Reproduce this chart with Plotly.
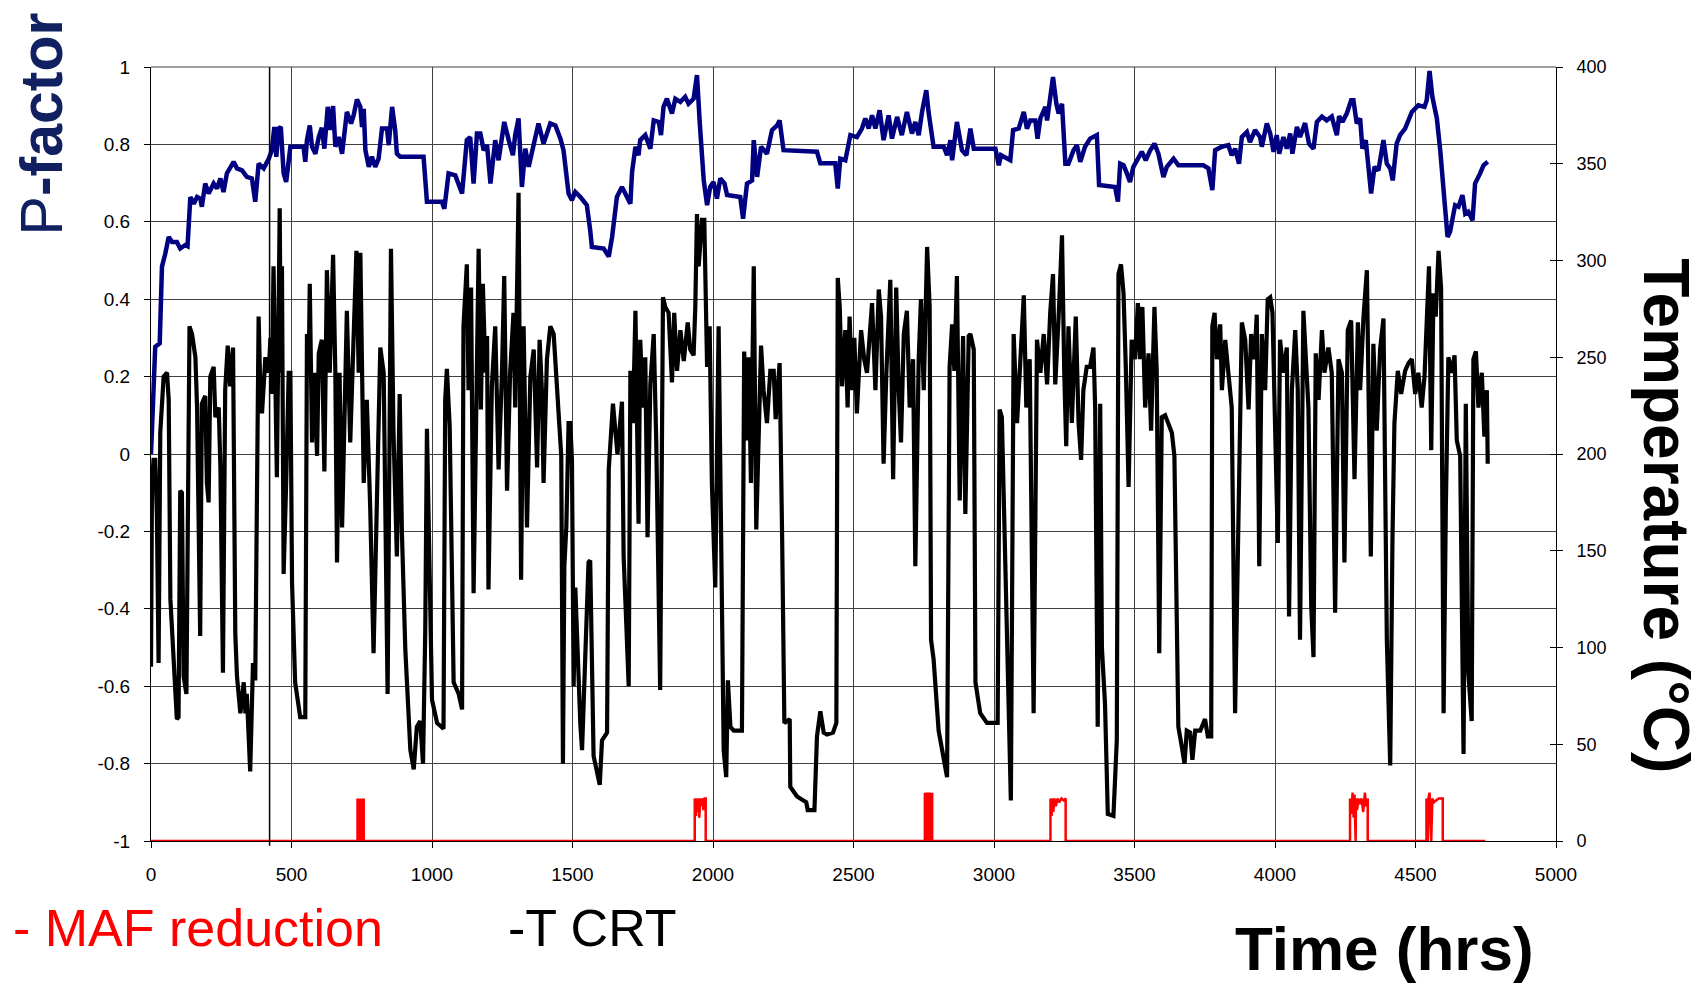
import plotly.graph_objects as go

# ---------------- data ----------------
x_ticks = [0, 500, 1000, 1500, 2000, 2500, 3000, 3500, 4000, 4500, 5000]
x_ticktext = ["0", "500", "1000", "1500", "2000", "2500", "3000", "3500", "4000", "4500", "5000"]
p_ticks = [-1, -0.8, -0.6, -0.4, -0.2, 0, 0.2, 0.4, 0.6, 0.8, 1]
p_ticktext = ["-1", "-0.8", "-0.6", "-0.4", "-0.2", "0", "0.2", "0.4", "0.6", "0.8", "1"]
t_ticks = [0, 50, 100, 150, 200, 250, 300, 350, 400]
t_ticktext = ["0", "50", "100", "150", "200", "250", "300", "350", "400"]

marker_hours = 422

pf_time = [0, 15, 31, 39, 51, 63, 75, 92, 104, 122, 130, 140, 152, 164, 175, 181, 193, 205, 223, 235,
           247, 258, 270, 294, 306, 324, 341, 359, 371, 383, 401, 419, 430, 439, 446, 454, 462, 472, 481, 496,
           543, 549, 555, 565, 573, 585, 597, 608, 617, 629, 638, 648, 656, 668, 680, 697, 712, 721, 733, 745,
           751, 757, 763, 775, 786, 798, 810, 822, 840, 846, 858, 869, 875, 887, 970, 982, 1035, 1044, 1059, 1083,
           1107, 1115, 1124, 1136, 1148, 1160, 1172, 1184, 1196, 1208, 1225, 1237, 1257, 1273, 1288, 1296, 1308, 1320, 1332, 1344,
           1362, 1379, 1397, 1421, 1439, 1457, 1468, 1486, 1498, 1510, 1528, 1551, 1563, 1569, 1611, 1629, 1641, 1658, 1676, 1688,
           1706, 1712, 1724, 1735, 1741, 1759, 1777, 1789, 1807, 1815, 1824, 1836, 1854, 1866, 1884, 1901, 1913, 1931, 1943, 1953,
           1967, 1979, 1990, 2002, 2014, 2026, 2041, 2050, 2097, 2107, 2121, 2139, 2145, 2157, 2171, 2192, 2210, 2228, 2237, 2251,
           2370, 2382, 2435, 2444, 2453, 2471, 2489, 2512, 2530, 2542, 2554, 2566, 2578, 2593, 2607, 2625, 2637, 2655, 2672, 2690,
           2708, 2720, 2732, 2744, 2759, 2767, 2785, 2821, 2833, 2845, 2851, 2868, 2886, 2902, 2916, 2928, 3005, 3017, 3025, 3058,
           3068, 3088, 3106, 3117, 3129, 3147, 3155, 3165, 3183, 3189, 3200, 3210, 3222, 3230, 3242, 3254, 3265, 3283, 3295, 3307,
           3324, 3342, 3366, 3374, 3431, 3441, 3449, 3461, 3473, 3484, 3496, 3514, 3526, 3540, 3556, 3571, 3585, 3603, 3615, 3639,
           3656, 3745, 3763, 3777, 3787, 3811, 3834, 3846, 3858, 3872, 3882, 3900, 3911, 3929, 3947, 3953, 3971, 3983, 3995, 4006,
           4015, 4030, 4042, 4054, 4062, 4078, 4089, 4107, 4121, 4137, 4149, 4167, 4184, 4202, 4214, 4220, 4228, 4240, 4256, 4271,
           4279, 4291, 4303, 4311, 4323, 4333, 4342, 4354, 4368, 4386, 4398, 4410, 4419, 4433, 4445, 4463, 4487, 4510, 4532, 4540,
           4550, 4560, 4576, 4588, 4599, 4605, 4614, 4623, 4641, 4653, 4667, 4677, 4688, 4703, 4712, 4730, 4742, 4757]
p_factor = [0.000, 0.277, 0.286, 0.484, 0.518, 0.561, 0.548, 0.548, 0.531, 0.540, 0.537, 0.664, 0.647, 0.664, 0.660, 0.639, 0.699, 0.673, 0.699, 0.686,
            0.712, 0.677, 0.725, 0.755, 0.738, 0.733, 0.716, 0.712, 0.652, 0.750, 0.738, 0.763, 0.785, 0.845, 0.768, 0.841, 0.845, 0.725, 0.703, 0.794,
            0.794, 0.755, 0.811, 0.849, 0.794, 0.776, 0.819, 0.843, 0.789, 0.897, 0.837, 0.899, 0.794, 0.819, 0.776, 0.884, 0.854, 0.875, 0.916, 0.897,
            0.845, 0.892, 0.785, 0.742, 0.768, 0.742, 0.763, 0.841, 0.841, 0.798, 0.897, 0.837, 0.776, 0.768, 0.768, 0.652, 0.652, 0.634, 0.725, 0.720,
            0.673, 0.746, 0.811, 0.819, 0.699, 0.828, 0.828, 0.785, 0.798, 0.699, 0.811, 0.759, 0.858, 0.811, 0.772, 0.824, 0.867, 0.690, 0.789, 0.742,
            0.802, 0.854, 0.802, 0.854, 0.849, 0.815, 0.785, 0.673, 0.656, 0.677, 0.664, 0.643, 0.578, 0.535, 0.531, 0.510, 0.561, 0.664, 0.690, 0.673,
            0.647, 0.729, 0.794, 0.772, 0.811, 0.824, 0.789, 0.862, 0.858, 0.824, 0.897, 0.918, 0.880, 0.918, 0.910, 0.923, 0.905, 0.918, 0.979, 0.854,
            0.707, 0.643, 0.690, 0.703, 0.660, 0.712, 0.699, 0.669, 0.664, 0.608, 0.699, 0.707, 0.811, 0.716, 0.794, 0.776, 0.837, 0.849, 0.862, 0.785,
            0.781, 0.751, 0.751, 0.686, 0.763, 0.759, 0.824, 0.819, 0.841, 0.867, 0.841, 0.875, 0.841, 0.888, 0.811, 0.875, 0.815, 0.871, 0.824, 0.884,
            0.828, 0.858, 0.824, 0.884, 0.940, 0.884, 0.794, 0.794, 0.772, 0.811, 0.759, 0.858, 0.785, 0.772, 0.841, 0.789, 0.789, 0.746, 0.772, 0.759,
            0.837, 0.841, 0.884, 0.841, 0.862, 0.862, 0.815, 0.867, 0.897, 0.862, 0.918, 0.974, 0.905, 0.880, 0.905, 0.750, 0.750, 0.785, 0.798, 0.755,
            0.794, 0.815, 0.824, 0.695, 0.690, 0.652, 0.750, 0.746, 0.725, 0.703, 0.742, 0.763, 0.781, 0.759, 0.785, 0.802, 0.776, 0.716, 0.742, 0.763,
            0.746, 0.746, 0.738, 0.682, 0.785, 0.794, 0.798, 0.772, 0.789, 0.750, 0.819, 0.832, 0.806, 0.837, 0.819, 0.794, 0.854, 0.828, 0.781, 0.824,
            0.776, 0.819, 0.789, 0.828, 0.776, 0.845, 0.819, 0.855, 0.802, 0.789, 0.858, 0.872, 0.862, 0.872, 0.845, 0.824, 0.873, 0.858, 0.881, 0.914,
            0.914, 0.854, 0.867, 0.789, 0.811, 0.733, 0.673, 0.742, 0.733, 0.811, 0.750, 0.738, 0.707, 0.802, 0.824, 0.841, 0.884, 0.901, 0.897, 0.914,
            0.990, 0.923, 0.867, 0.785, 0.673, 0.613, 0.561, 0.574, 0.643, 0.639, 0.669, 0.621, 0.626, 0.604, 0.699, 0.725, 0.746, 0.755]

crt_time = [0, 3.5, 9, 15, 21, 27, 33, 45, 57, 63, 69, 92, 98, 104, 110, 116, 126, 130, 137, 146,
            158, 164, 175, 181, 193, 199, 205, 211, 223, 229, 241, 247, 256, 264, 273, 282, 292, 300, 306, 318,
            330, 336, 341, 353, 363, 371, 377, 383, 389, 395, 407, 419, 425, 430, 436, 442, 448, 458, 462, 466,
            472, 481, 490, 496, 502, 513, 531, 549, 555, 561, 565, 573, 581, 591, 597, 608, 617, 626, 636, 648,
            656, 662, 671, 680, 691, 697, 709, 721, 731, 739, 745, 757, 768, 780, 792, 804, 816, 828, 842, 854,
            863, 875, 885, 893, 905, 923, 935, 946, 958, 968, 976, 982, 988, 1000, 1018, 1041, 1047, 1053, 1063, 1077,
            1095, 1107, 1112, 1124, 1130, 1139, 1148, 1158, 1166, 1174, 1181, 1190, 1196, 1201, 1213, 1225, 1237, 1249, 1257, 1267,
            1278, 1290, 1296, 1308, 1317, 1326, 1338, 1350, 1362, 1374, 1383, 1391, 1397, 1409, 1421, 1433, 1442, 1451, 1460, 1466,
            1471, 1478, 1486, 1492, 1498, 1504, 1510, 1528, 1534, 1557, 1563, 1575, 1597, 1605, 1623, 1629, 1644, 1660, 1676, 1682,
            1694, 1700, 1706, 1715, 1724, 1735, 1741, 1751, 1759, 1767, 1777, 1789, 1798, 1812, 1822, 1830, 1842, 1854, 1862, 1872,
            1884, 1896, 1910, 1919, 1931, 1937, 1943, 1949, 1961, 1969, 1979, 1988, 1996, 2008, 2020, 2032, 2038, 2047, 2053, 2062,
            2074, 2103, 2111, 2121, 2127, 2135, 2145, 2154, 2162, 2171, 2180, 2192, 2204, 2216, 2223, 2237, 2246, 2254, 2273, 2275,
            2299, 2332, 2337, 2361, 2370, 2382, 2394, 2406, 2427, 2439, 2444, 2451, 2459, 2471, 2479, 2486, 2495, 2503, 2512, 2527,
            2538, 2548, 2558, 2566, 2578, 2590, 2598, 2607, 2617, 2631, 2641, 2652, 2661, 2669, 2679, 2690, 2700, 2712, 2720, 2732,
            2740, 2750, 2762, 2771, 2776, 2785, 2803, 2821, 2833, 2842, 2851, 2859, 2868, 2878, 2890, 2898, 2910, 2916, 2928, 2934,
            2951, 2975, 3013, 3020, 3028, 3060, 3070, 3082, 3094, 3106, 3115, 3127, 3141, 3153, 3165, 3177, 3189, 3200, 3210, 3218,
            3230, 3242, 3250, 3257, 3265, 3277, 3291, 3301, 3310, 3318, 3330, 3342, 3354, 3360, 3369, 3378, 3384, 3395, 3405, 3425,
            3437, 3443, 3452, 3461, 3469, 3479, 3490, 3502, 3512, 3520, 3528, 3538, 3550, 3559, 3571, 3579, 3588, 3597, 3609, 3621,
            3633, 3642, 3651, 3656, 3668, 3678, 3686, 3698, 3706, 3716, 3734, 3751, 3761, 3773, 3777, 3785, 3793, 3805, 3811, 3823,
            3834, 3846, 3858, 3876, 3882, 3894, 3906, 3915, 3927, 3935, 3944, 3953, 3965, 3974, 3983, 3991, 4000, 4010, 4018, 4030,
            4042, 4050, 4060, 4072, 4081, 4089, 4101, 4110, 4119, 4129, 4137, 4145, 4155, 4167, 4176, 4190, 4202, 4214, 4226, 4238,
            4247, 4259, 4271, 4283, 4295, 4303, 4315, 4327, 4333, 4341, 4350, 4362, 4374, 4386, 4398, 4410, 4418, 4425, 4437, 4449,
            4463, 4475, 4487, 4499, 4510, 4522, 4532, 4540, 4548, 4556, 4564, 4572, 4582, 4591, 4600, 4608, 4617, 4629, 4639, 4647,
            4659, 4671, 4679, 4688, 4700, 4706, 4715, 4724, 4736, 4745, 4754, 4757]
t_crt = [90, 185, 197, 197, 168, 92, 211, 240, 242, 228, 125, 63, 64, 181, 180, 85, 76, 176, 266, 262,
         250, 224, 106, 226, 230, 185, 175, 240, 245, 219, 224, 193, 87, 233, 256, 235, 255, 107, 85, 66,
         82, 66, 76, 36, 92, 83, 192, 271, 233, 221, 250, 242, 260, 231, 297, 242, 188, 327, 242, 297,
         138, 185, 242, 242, 133, 82, 64, 64, 262, 242, 288, 206, 242, 199, 252, 259, 191, 295, 242, 303,
         242, 144, 242, 162, 236, 274, 206, 264, 305, 242, 304, 185, 228, 173, 97, 176, 255, 242, 76, 306,
         211, 147, 231, 159, 99, 47, 37, 59, 62, 40, 109, 213, 159, 73, 61, 58, 228, 244, 214, 82,
         76, 68, 266, 298, 233, 286, 128, 231, 306, 223, 288, 242, 261, 130, 235, 266, 192, 242, 292, 181,
         242, 273, 224, 335, 135, 266, 162, 240, 254, 193, 259, 233, 185, 249, 266, 262, 242, 224, 199, 40,
         142, 162, 216, 216, 197, 80, 131, 60, 47, 144, 145, 44, 29, 52, 56, 192, 226, 200, 227, 147,
         99, 80, 243, 216, 274, 164, 259, 224, 250, 157, 236, 262, 207, 78, 281, 276, 273, 237, 273, 243,
         264, 248, 268, 254, 251, 276, 324, 297, 321, 321, 245, 266, 185, 131, 266, 118, 47, 33, 83, 59,
         57, 57, 253, 207, 250, 185, 297, 161, 216, 256, 233, 216, 243, 243, 218, 247, 157, 61, 63, 28,
         23, 20, 16, 16, 54, 67, 56, 55, 56, 61, 291, 276, 235, 264, 224, 271, 233, 260, 221, 264,
         249, 242, 262, 278, 233, 285, 271, 195, 242, 290, 187, 286, 233, 206, 262, 274, 224, 249, 142, 249,
         280, 233, 307, 276, 104, 94, 57, 42, 33, 245, 267, 243, 292, 176, 261, 169, 261, 262, 254, 82,
         66, 61, 61, 223, 219, 21, 262, 216, 250, 282, 224, 249, 66, 259, 242, 262, 236, 273, 293, 236,
         271, 313, 242, 204, 266, 216, 271, 216, 197, 233, 245, 245, 255, 224, 59, 226, 100, 71, 14, 13,
         52, 293, 298, 283, 245, 183, 259, 249, 278, 249, 276, 224, 252, 212, 276, 243, 97, 219, 220, 216,
         211, 199, 95, 59, 49, 40, 57, 56, 42, 57, 57, 63, 54, 54, 266, 273, 249, 267, 233, 259,
         242, 224, 66, 233, 268, 259, 223, 262, 249, 272, 142, 262, 233, 280, 281, 273, 224, 154, 259, 242,
         255, 116, 233, 264, 233, 104, 274, 249, 224, 121, 95, 252, 228, 264, 242, 255, 242, 118, 249, 242,
         144, 264, 269, 187, 268, 233, 271, 295, 242, 147, 257, 212, 254, 270, 104, 39, 156, 216, 243, 231,
         243, 247, 249, 231, 242, 224, 240, 266, 297, 202, 283, 271, 305, 286, 66, 173, 250, 242, 251, 207,
         199, 45, 226, 87, 62, 249, 253, 224, 242, 209, 233, 195]

maf_time = [0, 735, 735, 738, 741, 744, 747, 750, 753, 756, 757, 757,
            1935, 1935, 1939, 1941, 1944, 1948, 1951, 1955, 1958, 1962, 1966, 1970, 1974, 1974,
            2754, 2754, 2757, 2760, 2763, 2766, 2769, 2772, 2775, 2778, 2780, 2780,
            3201, 3201, 3205, 3208, 3211, 3215, 3220, 3226, 3232, 3240, 3248, 3255, 3255,
            4267, 4267, 4272, 4276, 4280, 4283, 4287, 4288, 4292, 4297, 4302, 4308, 4314, 4320, 4324, 4330, 4330,
            4539, 4539, 4544, 4546, 4550, 4556, 4560, 4565, 4572, 4582, 4592, 4597, 4597, 4748]
maf_red = [0, 0, 22, 0, 22, 0, 22, 0, 22, 0, 22, 0,
           0, 22, 13, 22, 15, 22, 12, 22, 18, 22, 16, 22, 22, 0,
           0, 25, 0, 25, 0, 25, 0, 25, 0, 25, 25, 0,
           0, 22, 13, 22, 15, 22, 18, 22, 20, 22, 21, 22, 0,
           0, 22, 14, 25, 12, 24, 0, 22, 16, 22, 19, 22, 15, 25, 18, 22, 0,
           0, 22, 0, 22, 25, 0, 22, 20, 21, 22, 22, 22, 0, 0]

# ---------------- figure ----------------
FONT = "Arial, 'Liberation Sans', sans-serif"

fig = go.Figure()

fig.add_trace(go.Scatter(x=crt_time, y=t_crt, mode="lines", yaxis="y2",
                         line=dict(color="#000000", width=4.2), name="T CRT"))
fig.add_trace(go.Scatter(x=maf_time, y=maf_red, mode="lines", yaxis="y2",
                         line=dict(color="#ff0000", width=2.5), name="MAF reduction"))
fig.add_trace(go.Scatter(x=pf_time, y=p_factor, mode="lines", yaxis="y",
                         line=dict(color="#000080", width=4.5), name="P-factor"))
# invisible trace to carry the inner tick marks of the right axis
fig.add_trace(go.Scatter(x=[None], y=[None], yaxis="y3", mode="lines",
                         showlegend=False, hoverinfo="skip"))

grid_col = "#404040"
fig.update_layout(
    width=1707, height=986, autosize=False,
    margin=dict(l=151, r=151, t=67, b=145),
    paper_bgcolor="white", plot_bgcolor="white",
    showlegend=False,
    font=dict(family=FONT, color="black", size=18),
    xaxis=dict(range=[0, 5000], tickvals=x_ticks, ticktext=x_ticktext,
               showgrid=True, gridcolor=grid_col, gridwidth=1,
               ticks="outside", ticklen=6, tickcolor="black", tickwidth=1,
               showline=True, linecolor="black", linewidth=1, mirror=False,
               zeroline=False, tickfont=dict(size=19), ticklabelstandoff=10),
    yaxis=dict(range=[-1, 1], tickvals=p_ticks, ticktext=p_ticktext,
               showgrid=True, gridcolor=grid_col, gridwidth=1,
               ticks="outside", ticklen=6, tickcolor="black",
               showline=True, linecolor="black", linewidth=1,
               zeroline=False, tickfont=dict(size=19), ticklabelstandoff=10),
    yaxis2=dict(range=[0, 400], tickvals=t_ticks, ticktext=t_ticktext,
                overlaying="y", side="right", anchor="x",
                showgrid=False, ticks="outside", ticklen=6, tickcolor="black",
                showline=True, linecolor="black", linewidth=1,
                zeroline=False, tickfont=dict(size=18), ticklabelstandoff=10),
    yaxis3=dict(range=[0, 400], tickvals=t_ticks, overlaying="y", side="right", anchor="x",
                showgrid=False, ticks="inside", ticklen=6, tickcolor="black",
                showticklabels=False, showline=False, zeroline=False),
)

fig.add_shape(type="line", xref="x", yref="paper", x0=marker_hours, x1=marker_hours,
              y0=-0.006, y1=1, line=dict(color="black", width=1.5))
fig.add_shape(type="line", xref="paper", yref="paper", x0=0, x1=1, y0=1, y1=1,
              line=dict(color=grid_col, width=1))

annos = [
    dict(text="P<b>-factor</b>", x=-0.0776, y=0.927, textangle=-90,
         font=dict(size=59, color="#112060")),
    dict(text="<b>Temperature (°C)</b>", x=1.0783, y=0.421, textangle=90,
         font=dict(size=64, color="black")),
    dict(text="<b>Time (hrs)</b>", x=0.8776, y=-0.139,
         font=dict(size=62, color="black")),
    dict(text="- MAF reduction", x=-0.0996, y=-0.113, xanchor="left",
         font=dict(size=52, color="#ff0000")),
    dict(text="-T CRT", x=0.2527, y=-0.113, xanchor="left",
         font=dict(size=52, color="black")),
]
for a in annos:
    a.setdefault("xanchor", "center")
    fig.add_annotation(xref="paper", yref="paper", showarrow=False, yanchor="middle",
                       font_family=FONT, **{k: v for k, v in a.items()})

fig.write_html("out.html")
